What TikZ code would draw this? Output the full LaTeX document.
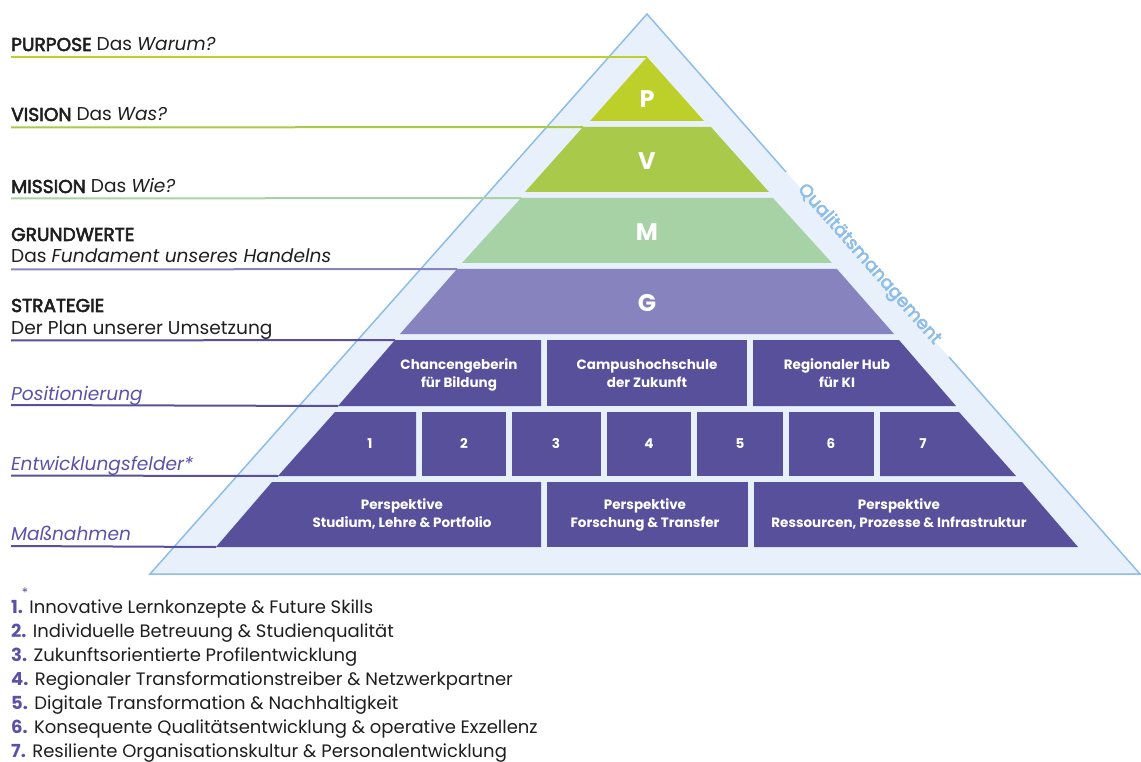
\documentclass[tikz,border=0pt]{standalone}
\usepackage{fontspec}
\setmainfont{Poppins}
\newfontfamily\medfont{Poppins}[FakeBold=3]
\definecolor{cP}{HTML}{BDD02A}
\definecolor{cV}{HTML}{A9C94B}
\definecolor{cM}{HTML}{A7D2A6}
\definecolor{cG}{HTML}{8783BF}
\definecolor{cD}{HTML}{58509B}
\definecolor{cT}{HTML}{5A52A8}
\definecolor{qfill}{HTML}{E8F1FB}
\definecolor{qline}{HTML}{8DBDE8}
\definecolor{txt}{HTML}{1E1E1E}
\tikzset{
  lbl/.style={anchor=base west, inner sep=0pt, text=txt, font=\fontsize{18.6}{22}\selectfont},
  lbli/.style={anchor=base west, inner sep=0pt, text=cT, font=\fontsize{18.6}{22}\selectfont\itshape},
  fn/.style={anchor=base west, inner sep=0pt, text=txt, font=\fontsize{18}{22}\selectfont},
  conn/.style={line width=2pt},
  big/.style={anchor=base, inner sep=0pt, text=white, font=\fontsize{24}{26}\selectfont\bfseries},
  btxt/.style={anchor=base, inner sep=0pt, text=white, align=center, font=\fontsize{13.5}{18}\selectfont\bfseries},
  qm/.style={text=qline, inner sep=0pt, font=\fontsize{18}{20}\medfont},
}
\newcommand{\fnum}[1]{{\bfseries\color{cT}#1}}
\newcommand{\hd}[1]{{\medfont #1}}
\begin{document}
\begin{tikzpicture}[x=1pt,y=-1pt]
\useasboundingbox (0,0) rectangle (1141,762);
% outer triangle
\coordinate (A) at (647,14);
\coordinate (BL) at (150,574);
\coordinate (BR) at (1140,574);
\coordinate (g1) at (786,172);
\coordinate (g2) at (949,357);
\fill[qfill] (A) -- (BL) -- (BR) -- cycle;
\draw[qline, line width=1.5pt, line join=miter] (g1) -- (A) -- (BL) -- (BR) -- (g2);
\node[qm, rotate=-48.64] (qmt) at (869,264.5) {Qualitätsmanagement};
% levels
\coordinate (Ptop) at (647,57);
\fill[cP] (Ptop) -- (590,121) -- (704,121) -- cycle;
\coordinate (Vtl) at (583,127);
\fill[cV] (Vtl) -- (711,127) -- (769,192) -- (525,192) -- cycle;
\coordinate (Mtl) at (521,198);
\fill[cM] (Mtl) -- (773,198) -- (832,263) -- (462,263) -- cycle;
\coordinate (Gtl) at (457,269);
\fill[cG] (Gtl) -- (837,269) -- (894,334) -- (400,334) -- cycle;
% row 1
\coordinate (R1tl) at (395,340);
\coordinate (R1bl) at (338,406);
\fill[cD] (R1tl) -- (541,340) -- (541,406) -- (R1bl) -- cycle;
\fill[cD] (547,340) rectangle (747,406);
\fill[cD] (753,340) -- (899,340) -- (956,406) -- (753,406) -- cycle;
% row 2
\coordinate (R2bl) at (278,476);
\fill[cD] (335,412) -- (416,412) -- (416,476) -- (R2bl) -- cycle;
\fill[cD] (422,412) rectangle (506,476);
\fill[cD] (512,412) rectangle (601,476);
\fill[cD] (607,412) rectangle (691,476);
\fill[cD] (697,412) rectangle (783,476);
\fill[cD] (789,412) rectangle (874,476);
\fill[cD] (880,412) -- (959,412) -- (1016,476) -- (880,476) -- cycle;
% row 3
\coordinate (R3bl) at (216,547);
\fill[cD] (272,482) -- (541,482) -- (541,547) -- (R3bl) -- cycle;
\fill[cD] (547,482) rectangle (748,547);
\fill[cD] (754,482) -- (1022,482) -- (1078,547) -- (754,547) -- cycle;
% level texts
\node[big] (tP) at (647,108) {P};
\node[big] (tV) at (647,170) {V};
\node[big] (tM) at (647,241) {M};
\node[big] (tG) at (647,311) {G};
\node[btxt] (b11) at (459,387) {Chancengeberin\\für Bildung};
\node[btxt] (b12) at (647,387) {Campushochschule\\der Zukunft};
\node[btxt] (b13) at (837,387) {Regionaler Hub\\für KI};
\node[btxt] (n1) at (370,448) {1};
\node[btxt] (n2) at (464,448) {2};
\node[btxt] (n3) at (556,448) {3};
\node[btxt] (n4) at (649,448) {4};
\node[btxt] (n5) at (740,448) {5};
\node[btxt] (n6) at (831,448) {6};
\node[btxt] (n7) at (923,448) {7};
\node[btxt] (b31) at (402,527) {Perspektive\\Studium, Lehre \& Portfolio};
\node[btxt] (b32) at (645,527) {Perspektive\\Forschung \& Transfer};
\node[btxt] (b33) at (899,527) {Perspektive\\Ressourcen, Prozesse \& Infrastruktur};
% left labels
\node[lbl] (lPt) at (11,51) {\hd{PURPOSE} Das \textit{Warum?}};
\node[lbl] (lVt) at (11,121) {\hd{VISION} Das \textit{Was?}};
\node[lbl] (lMt) at (11,193) {\hd{MISSION} Das \textit{Wie?}};
\node[lbl] (lGt) at (11,241) {\hd{GRUNDWERTE}};
\node[lbl] (lGt2) at (11,263) {Das \textit{Fundament unseres Handelns}};
\node[lbl] (lSt) at (11,312) {\hd{STRATEGIE}};
\node[lbl] (lSt2) at (11,334) {Der Plan unserer Umsetzung};
\node[lbli] (lPo) at (11,400) {Positionierung};
\node[lbli] (lEn) at (11,470) {Entwicklungsfelder*};
\node[lbli] (lMa) at (11,540) {Maßnahmen};
% connector lines
\coordinate (cP0) at (11,57);
\coordinate (cV0) at (11,127.5);
\coordinate (cM0) at (11,198.5);
\coordinate (cG0) at (11,269.5);
\coordinate (cS0) at (11,340.5);
\coordinate (cPo0) at (11,405);
\coordinate (cEn0) at (11,475.5);
\coordinate (cMa0) at (11,546);
\draw[conn, cP] (cP0) -- (Ptop);
\draw[conn, cV] (cV0) -- (Vtl);
\draw[conn, cM] (cM0) -- (Mtl);
\draw[conn, cG] (cG0) -- (Gtl);
\draw[conn, cD] (cS0) -- (R1tl);
\draw[conn, cD] (cPo0) -- (R1bl);
\draw[conn, cD] (cEn0) -- (R2bl);
\draw[conn, cD] (cMa0) -- (R3bl);
% footnotes
\node[anchor=base, inner sep=0pt, text=cT, font=\fontsize{13}{13}\selectfont] (star) at (25,597) {*};
\node[fn] (f1) at (11,613) {\fnum{1.} Innovative Lernkonzepte \& Future Skills};
\node[fn] (f2) at (11,637) {\fnum{2.} Individuelle Betreuung \& Studienqualität};
\node[fn] (f3) at (11,661) {\fnum{3.} Zukunftsorientierte Profilentwicklung};
\node[fn] (f4) at (11,685) {\fnum{4.} Regionaler Transformationstreiber \& Netzwerkpartner};
\node[fn] (f5) at (11,709) {\fnum{5.} Digitale Transformation \& Nachhaltigkeit};
\node[fn] (f6) at (11,733) {\fnum{6.} Konsequente Qualitätsentwicklung \& operative Exzellenz};
\node[fn] (f7) at (11,757) {\fnum{7.} Resiliente Organisationskultur \& Personalentwicklung};
\end{tikzpicture}
\end{document}
